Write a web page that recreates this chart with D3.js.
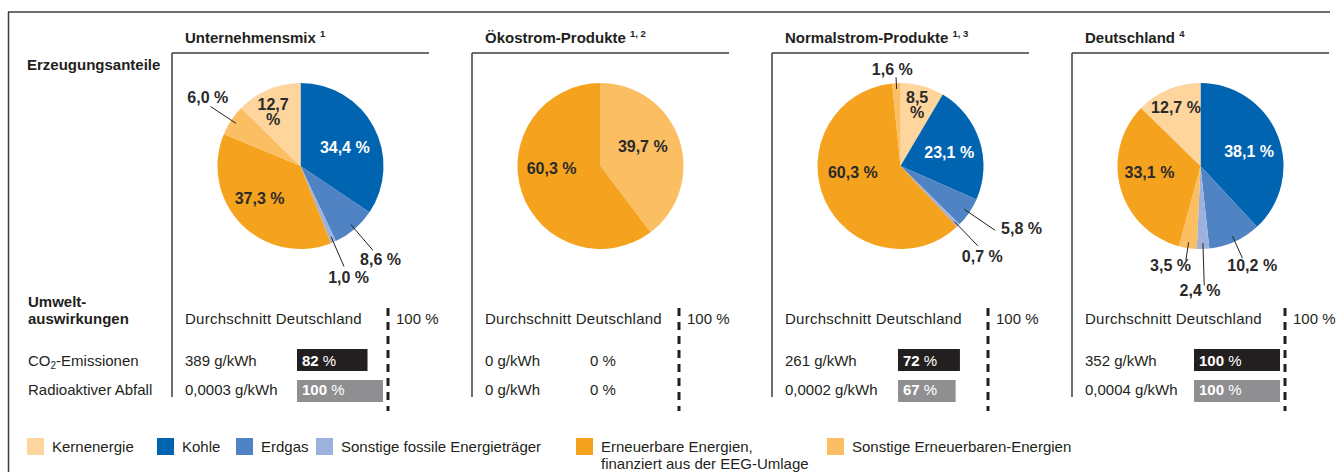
<!DOCTYPE html>
<html>
<head>
<meta charset="utf-8">
<script src="https://cdn.jsdelivr.net/npm/d3@7"></script>
<style>
  body { margin: 0; background: #fff; }
  text { font-family: "Liberation Sans", Arial, sans-serif; fill: #231f20; }
</style>
</head>
<body>
<svg id="chart" width="1341" height="472"></svg>
<script>
// categories (legend order)
const categories = ["Kernenergie", "Kohle", "Erdgas", "Sonstige fossile Energieträger",
    "Erneuerbare Energien,|finanziert aus der EEG-Umlage", "Sonstige Erneuerbaren-Energien"];
const colors = ["#fdd59d", "#0064b1", "#4f83c3", "#9cb2dc", "#f5a31e", "#fbbe62"];

const panelTitles = ["Unternehmensmix", "Ökostrom-Produkte", "Normalstrom-Produkte", "Deutschland"];
const panelNotes = ["1", "1, 2", "1, 3", "4"];

// shares in %, same order as categories
const unternehmensmix = [12.7, 34.4, 8.6, 1.0, 37.3, 6.0];
const oekostrom = [0, 0, 0, 0, 60.3, 39.7];
const normalstrom = [8.5, 23.1, 5.8, 0.7, 60.3, 1.6];
const deutschland = [12.7, 38.1, 10.2, 2.4, 33.1, 3.5];
const shares = [unternehmensmix, oekostrom, normalstrom, deutschland];

// slice order, clockwise from 12 o'clock
const sliceOrder = [[1, 2, 3, 4, 5, 0], [5, 4, 0, 1, 2, 3], [0, 1, 2, 3, 4, 5], [1, 2, 3, 5, 4, 0]];

// Umweltauswirkungen
const co2Values = ["389 g/kWh", "0 g/kWh", "261 g/kWh", "352 g/kWh"];
const co2Percent = [82, 0, 72, 100];
const wasteValues = ["0,0003 g/kWh", "0 g/kWh", "0,0002 g/kWh", "0,0004 g/kWh"];
const wastePercent = [100, 0, 67, 100];

// label placement: k = radius factor, da = angle shift (deg), l = leader end (outside labels)
const labelLayout = [
    { 0: { k: 0.73, da: -4, wrap: true }, 1: { k: 0.58, da: 5 }, 2: { k: 1.48, da: 0, l: 1.34 },
      3: { k: 1.46, da: 0, l: 1.32 }, 4: { k: 0.63, da: 6 }, 5: { k: 1.39, da: 3, l: 1.3 } },
    { 4: { k: 0.59, da: 16 }, 5: { k: 0.56, da: -6 } },
    { 0: { k: 0.76, da: 0, wrap: true }, 1: { k: 0.61, da: 2 }, 2: { k: 1.64, da: -7, l: 1.38 },
      3: { k: 1.47, da: 2, l: 1.34 }, 4: { k: 0.58, da: 16 }, 5: { k: 1.17, da: -2, l: 1.07 } },
    { 0: { k: 0.76, da: 0 }, 1: { k: 0.61, da: 5 }, 2: { k: 1.35, da: -3, l: 1.22 },
      3: { k: 1.5, da: 2, l: 1.44 }, 4: { k: 0.62, da: 8 }, 5: { k: 1.25, da: 8, l: 1.15 } }
];
// small per-panel nudges of the bar block and the 100 % line
const barShift = [0, 0, 1, -3];
const dashShift = [0, -9, 0, -3];

const svg = d3.select("#chart");
const fmt = v => d3.format(".1f")(v).replace(".", ",");
const panelX = d3.scalePoint().domain(d3.range(4)).range([172, 1072]);
const panelW = 257;
const radius = 83;
const pieY = 166;
const lineColor = "#3c3c3c";

// outer frame
svg.append("line").attr("x1", 8).attr("x2", 1330).attr("y1", 12).attr("y2", 12)
    .attr("stroke", lineColor).attr("stroke-width", 1.5);
svg.append("line").attr("x1", 8.5).attr("x2", 8.5).attr("y1", 12).attr("y2", 472)
    .attr("stroke", lineColor).attr("stroke-width", 1.5);

// row headings
svg.append("text").attr("x", 27).attr("y", 70).attr("font-size", 15).attr("font-weight", "bold")
    .text("Erzeugungsanteile");
svg.append("text").attr("x", 28).attr("y", 307).attr("font-size", 15).attr("font-weight", "bold")
    .text("Umwelt-");
svg.append("text").attr("x", 28).attr("y", 324).attr("font-size", 15).attr("font-weight", "bold")
    .text("auswirkungen");
var co2 = svg.append("text").attr("x", 28).attr("y", 366).attr("font-size", 15);
co2.append("tspan").text("CO");
co2.append("tspan").attr("font-size", 10).attr("dy", 3).text("2");
co2.append("tspan").attr("dy", -3).text("-Emissionen");
svg.append("text").attr("x", 28).attr("y", 395).attr("font-size", 15).text("Radioaktiver Abfall");

const pie = d3.pie().sort(null).value(d => d.v);
const arc = d3.arc().innerRadius(0).outerRadius(radius);
const polar = (r, a) => [r * Math.sin(a), -r * Math.cos(a)];

shares.forEach((values, p) => {
    const x0 = panelX(p);
    const cx = x0 + panelW / 2;
    const g = svg.append("g");

    // frame
    g.append("line").attr("x1", x0).attr("x2", x0 + panelW).attr("y1", 53).attr("y2", 53)
        .attr("stroke", lineColor).attr("stroke-width", 1.5);
    g.append("line").attr("x1", x0).attr("x2", x0).attr("y1", 53).attr("y2", 397)
        .attr("stroke", lineColor).attr("stroke-width", 1.5);

    // title
    var title = g.append("text").attr("x", x0 + 13).attr("y", 43)
        .attr("font-size", 15).attr("font-weight", "bold");
    title.append("tspan").text(panelTitles[p] + " ");
    title.append("tspan").attr("font-size", 9.5).attr("dy", -6).text(panelNotes[p]);

    // pie
    const slices = pie(sliceOrder[p].map(i => ({ i: i, v: values[i] })));
    const pg = g.append("g").attr("transform", "translate(" + cx + "," + pieY + ")");
    pg.selectAll("path")
        .data(slices.filter(d => d.data.v > 0))
        .enter().append("path")
        .attr("d", arc)
        .attr("fill", d => colors[d.data.i]);

    // labels
    slices.filter(d => d.data.v > 0).forEach(d => {
        const lay = labelLayout[p][d.data.i];
        const mid = (d.startAngle + d.endAngle) / 2;
        const a = mid + lay.da * Math.PI / 180;
        const [lx, ly] = polar(radius * lay.k, a);
        if (lay.l) {
            const [ax, ay] = polar(radius * 0.93, mid);
            const [bx, by] = polar(radius * lay.l, mid);
            pg.append("line").attr("x1", ax).attr("y1", ay).attr("x2", bx).attr("y2", by)
                .attr("stroke", "#231f20").attr("stroke-width", 1);
        }
        const t = pg.append("text")
            .attr("text-anchor", "middle")
            .attr("font-size", 16)
            .attr("font-weight", "bold")
            .style("fill", d.data.i == 1 ? "#fff" : "#2a2a2a");
        if (lay.wrap) {
            t.append("tspan").attr("x", lx).attr("y", ly - 2).text(fmt(d.data.v));
            t.append("tspan").attr("x", lx).attr("y", ly + 13).text("%");
        } else {
            t.attr("x", lx).attr("y", ly + 5.5).text(fmt(d.data.v) + " %");
        }
    });

    // Umweltauswirkungen
    const bx0 = x0 + 125 + barShift[p];
    const x = d3.scaleLinear().domain([0, 100]).range([bx0, bx0 + 86]);
    const dashX = x0 + 216 + dashShift[p];
    g.append("text").attr("x", x0 + 13).attr("y", 324).attr("font-size", 15)
        .attr("letter-spacing", 0.25).text("Durchschnitt Deutschland");
    g.append("line").attr("x1", dashX).attr("x2", dashX).attr("y1", 308).attr("y2", 411)
        .attr("stroke", "#231f20").attr("stroke-width", 3).attr("stroke-dasharray", "8,6");
    g.append("text").attr("x", dashX + 8).attr("y", 324).attr("font-size", 15).text("100 %");

    const rows = [
        { label: co2Values[p], pct: co2Percent[p], y: 349, base: 366, fill: "#231f20" },
        { label: wasteValues[p], pct: wastePercent[p], y: 380, base: 395, fill: "#8f8f91" }
    ];
    rows.forEach(r => {
        g.append("text").attr("x", x0 + 13).attr("y", r.base).attr("font-size", 15).text(r.label);
        if (r.pct > 0) {
            g.append("rect").attr("x", x(0)).attr("y", r.y)
                .attr("width", x(r.pct) - x(0)).attr("height", 22)
                .attr("fill", r.fill);
            var bt = g.append("text").attr("x", x(0) + 5).attr("y", r.base).attr("font-size", 15)
                .style("fill", "#fff");
            bt.append("tspan").attr("font-weight", "bold").text(r.pct);
            bt.append("tspan").text(" %");
        } else {
            g.append("text").attr("x", x(0) - 7).attr("y", r.base).attr("font-size", 15)
                .text(r.pct + " %");
        }
    });
});

// legend
const legendX = [27, 157, 236, 316, 576, 827];
const legend = svg.selectAll(".legend")
    .data(categories)
    .enter().append("g")
    .attr("class", "legend")
    .attr("transform", (d, i) => "translate(" + legendX[i] + ",438)");
legend.append("rect").attr("width", 17).attr("height", 17).attr("fill", (d, i) => colors[i]);
legend.each(function (d) {
    const t = d3.select(this).append("text").attr("font-size", 15);
    d.split("|").forEach((line, j) => {
        t.append("tspan").attr("x", 25).attr("y", 14 + j * 17).text(line);
    });
});
</script>
</body>
</html>
